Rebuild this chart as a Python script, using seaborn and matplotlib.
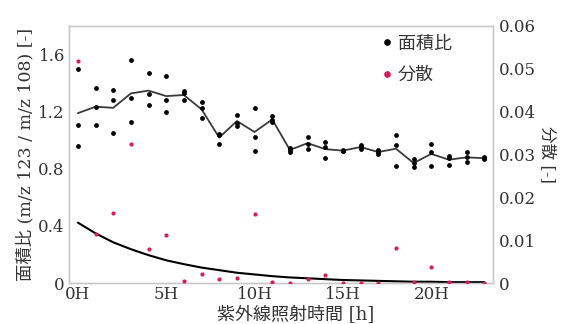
import matplotlib
matplotlib.use("Agg")
import matplotlib.pyplot as plt
import seaborn as sns
import pandas as pd

# UV exposure time [h]
hours = list(range(24))

# Peak area ratio (m/z 123 / m/z 108), three replicates per time point
ratio_rep1 = [1.500, 1.368, 1.352, 1.564, 1.468, 1.452, 1.342, 1.267, 1.045, 1.179,
              1.228, 1.167, 0.945, 1.024, 0.985, 0.933, 0.964, 0.931, 1.036, 0.868,
              0.973, 0.891, 0.915, 0.880]
ratio_rep2 = [1.106, 1.230, 1.279, 1.293, 1.324, 1.279, 1.328, 1.228, 1.035, 1.123,
              1.022, 1.144, 0.933, 0.976, 0.950, 0.926, 0.952, 0.917, 0.968, 0.840,
              0.917, 0.873, 0.880, 0.873]
ratio_rep3 = [0.961, 1.106, 1.048, 1.125, 1.249, 1.195, 1.279, 1.153, 0.975, 1.100,
              0.922, 1.125, 0.917, 0.938, 0.877, 0.922, 0.940, 0.903, 0.817, 0.812,
              0.822, 0.826, 0.845, 0.868]

# Variance of the replicates
variance = [0.0518, 0.0115, 0.0164, 0.0325, 0.0080, 0.0111, 0.0005, 0.0021, 0.0009, 0.0012,
            0.0160, 0.0002, 0.0000, 0.0010, 0.0018, 0.0000, 0.0000, 0.0001, 0.0082, 0.0003,
            0.0037, 0.0003, 0.0003, 0.0000]

# Exponential trend of the variance
variance_trend = [0.0141, 0.0116, 0.0095, 0.0079, 0.0065, 0.0053, 0.0044, 0.0036, 0.0030, 0.0024,
                  0.0020, 0.0016, 0.0013, 0.0011, 0.0009, 0.0007, 0.0006, 0.0005, 0.0004, 0.0003,
                  0.0003, 0.0002, 0.0002, 0.0002]

x_ticks = [0, 5, 10, 15, 20]
x_tick_labels = ["0H", "5H", "10H", "15H", "20H"]
left_ticks = [0, 0.4, 0.8, 1.2, 1.6]
left_tick_labels = ["0", "0.4", "0.8", "1.2", "1.6"]
right_ticks = [0, 0.01, 0.02, 0.03, 0.04, 0.05, 0.06]
right_tick_labels = ["0", "0.01", "0.02", "0.03", "0.04", "0.05", "0.06"]

sns.set_theme(style="white")
plt.rcParams["font.family"] = ["DejaVu Serif", "Noto Sans CJK JP"]
plt.rcParams["axes.unicode_minus"] = False

PINK = "#d81b60"
SPINE = "#c8c8c8"
TEXT = "#333333"

ratio_df = pd.DataFrame({
    "hour": hours * 3,
    "ratio": ratio_rep1 + ratio_rep2 + ratio_rep3,
})
var_df = pd.DataFrame({"hour": hours, "variance": variance, "trend": variance_trend})

fig = plt.figure(figsize=(5.61, 3.24), dpi=100)
ax = fig.add_axes([0.123, 0.1265, 0.756, 0.7935])
ax2 = ax.twinx()

# Area ratio: replicate points and the mean line
sns.lineplot(data=ratio_df, x="hour", y="ratio", estimator="mean", errorbar=None,
             color="#3a3a3a", linewidth=1.3, ax=ax, zorder=2)
sns.scatterplot(data=ratio_df, x="hour", y="ratio", color="black", s=12,
                linewidth=0, ax=ax, zorder=3)

# Variance points and its trend curve
sns.lineplot(data=var_df, x="hour", y="trend", color="black", linewidth=1.5,
             ax=ax2, zorder=2)
sns.scatterplot(data=var_df, x="hour", y="variance", color=PINK, s=9,
                linewidth=0, ax=ax2, zorder=3)

ax.set_xlim(-0.5, 23.5)
ax.set_ylim(0, 1.8)
ax2.set_ylim(0, 0.06)

ax.set_xticks(x_ticks)
ax.set_xticklabels(x_tick_labels, fontsize=12)
ax.set_yticks(left_ticks)
ax.set_yticklabels(left_tick_labels, fontsize=12)
ax2.set_yticks(right_ticks)
ax2.set_yticklabels(right_tick_labels, fontsize=12)

ax.tick_params(axis="both", length=0, pad=3, colors=TEXT)
ax.tick_params(axis="x", pad=2)
ax2.tick_params(axis="y", length=0, pad=4, colors=TEXT)

ax.set_xlabel("紫外線照射時間 [h]", fontsize=13, color=TEXT, labelpad=0)
ax.xaxis.set_label_coords(0.535, -0.088)
ax.set_ylabel("面積比 (m/z 123 / m/z 108) [-]", fontsize=12.5, color=TEXT, labelpad=3)
ax2.set_ylabel("分散 [-]", fontsize=12, color=TEXT, rotation=270, labelpad=14)

for a in (ax, ax2):
    for sp in a.spines.values():
        sp.set_color(SPINE)
        sp.set_linewidth(1.0)

# Legend
handles = [
    plt.Line2D([], [], marker="o", linestyle="", color="black", markersize=3.8),
    plt.Line2D([], [], marker="o", linestyle="", color=PINK, markersize=3.8),
]
leg = ax2.legend(handles, ["面積比", "分散"], loc="upper left",
                 bbox_to_anchor=(0.694, 1.03), frameon=False, handletextpad=0.2,
                 handlelength=0.8, labelspacing=0.75,
                 prop={"family": ["Noto Sans CJK JP"], "size": 13})
for t in leg.get_texts():
    t.set_color(TEXT)

fig.savefig("out.png", dpi=100)
